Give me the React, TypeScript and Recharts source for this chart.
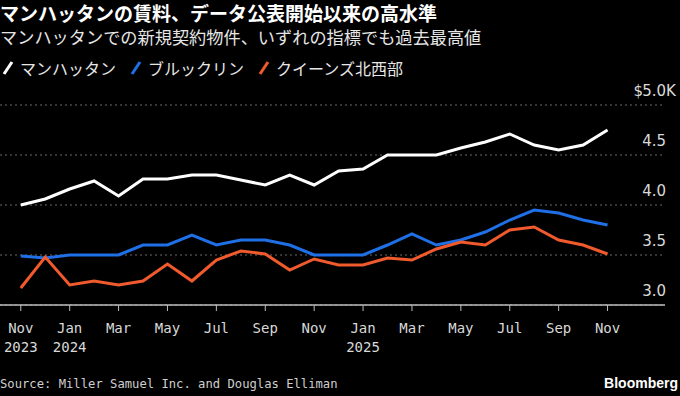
import { LineChart, Line, XAxis, YAxis, CartesianGrid } from 'recharts'

// Monthly rents, $K, Nov 2023 .. Nov 2025
const MONTHS = [
  'Nov', 'Dec', 'Jan', 'Feb', 'Mar', 'Apr', 'May', 'Jun', 'Jul', 'Aug', 'Sep', 'Oct',
  'Nov', 'Dec', 'Jan', 'Feb', 'Mar', 'Apr', 'May', 'Jun', 'Jul', 'Aug', 'Sep', 'Oct', 'Nov',
]
const YEAR_LABELS: Record<number, string> = { 0: '2023', 2: '2024', 14: '2025' }

const manhattan = [
  4.0, 4.06, 4.16, 4.24, 4.09, 4.26, 4.26, 4.3, 4.3, 4.25, 4.2, 4.3, 4.2,
  4.34, 4.36, 4.5, 4.5, 4.5, 4.57, 4.63, 4.71, 4.6, 4.55, 4.6, 4.75,
]
const brooklyn = [
  3.49, 3.47, 3.5, 3.5, 3.5, 3.6, 3.6, 3.7, 3.6, 3.65, 3.65, 3.6, 3.5,
  3.5, 3.5, 3.6, 3.71, 3.6, 3.65, 3.73, 3.85, 3.95, 3.92, 3.85, 3.8,
]
const queensNW = [
  3.17, 3.48, 3.2, 3.24, 3.2, 3.24, 3.41, 3.24, 3.45, 3.54, 3.51, 3.35, 3.46,
  3.4, 3.4, 3.47, 3.45, 3.56, 3.63, 3.6, 3.75, 3.78, 3.65, 3.6, 3.51,
]

const Y_TICKS = [3.0, 3.5, 4.0, 4.5, 5.0]
const X_TICKS = [0, 2, 4, 6, 8, 10, 12, 14, 16, 18, 20, 22, 24]

const WHITE = '#ffffff'
const BLUE = '#1f6fe6'
const ORANGE = '#f05a2c'

const data = MONTHS.map((m, i) => ({
  i,
  month: m,
  manhattan: manhattan[i],
  brooklyn: brooklyn[i],
  queens: queensNW[i],
}))

const MONO = '"DejaVu Sans Mono", monospace'
const CJK = '"Noto Sans CJK JP", sans-serif'

function XTick({ x, y, payload }: any) {
  const idx = payload.value as number
  const year = YEAR_LABELS[idx]
  return (
    <g>
      <text x={x} y={y + 20} textAnchor="middle" fill="#d9d9d9" fontSize={14} fontFamily={MONO}>
        {MONTHS[idx]}
      </text>
      {year && (
        <text x={x} y={y + 39} textAnchor="middle" fill="#d9d9d9" fontSize={14} fontFamily={MONO}>
          {year}
        </text>
      )}
    </g>
  )
}

function YTick({ y, payload }: any) {
  const v = payload.value as number
  const common = { fill: '#d9d9d9', fontSize: 15, fontFamily: '"DejaVu Sans", sans-serif' }
  if (v === 5) {
    return (
      <g>
        <text x={643} y={y - 9} textAnchor="end" {...common}>$</text>
        <text x={666} y={y - 9} textAnchor="end" {...common}>5.0</text>
        <text x={666} y={y - 9} textAnchor="start" {...common}>K</text>
      </g>
    )
  }
  return (
    <text x={666} y={y - 9} textAnchor="end" {...common}>
      {v.toFixed(1)}
    </text>
  )
}

function LegendItem({ color, label }: { color: string; label: string }) {
  return (
    <span style={{ display: 'inline-flex', alignItems: 'center', marginRight: 14 }}>
      <svg width={12} height={14} style={{ marginRight: 6 }}>
        <line x1={2} y1={13} x2={10} y2={1} stroke={color} strokeWidth={3} />
      </svg>
      {label}
    </span>
  )
}

export default function App() {
  return (
    <div style={{ position: 'relative', width: 680, height: 396, background: '#000', overflow: 'hidden' }}>
      <style>{`body{margin:0;background:#000}`}</style>
      <div style={{ position: 'absolute', left: 0, top: 2, color: '#fff', fontFamily: CJK, fontWeight: 700, fontSize: 19, lineHeight: '21px', whiteSpace: 'nowrap' }}>
        マンハッタンの賃料、データ公表開始以来の高水準
      </div>
      <div style={{ position: 'absolute', left: 0, top: 26, color: '#e6e6e6', fontFamily: CJK, fontSize: 17.2, lineHeight: '21px', whiteSpace: 'nowrap' }}>
        マンハッタンでの新規契約物件、いずれの指標でも過去最高値
      </div>
      <div style={{ position: 'absolute', left: 2, top: 56, color: '#e6e6e6', fontFamily: CJK, fontSize: 16, lineHeight: '24px', display: 'flex' }}>
        <LegendItem color={WHITE} label="マンハッタン" />
        <LegendItem color={BLUE} label="ブルックリン" />
        <LegendItem color={ORANGE} label="クイーンズ北西部" />
      </div>
      <div style={{ position: 'absolute', left: 0, top: 0 }}>
        <LineChart width={680} height={396} data={data} margin={{ top: 105, right: 15, bottom: 61, left: 0 }}>
          <CartesianGrid horizontal vertical={false} stroke="#6a6a6a" strokeDasharray="2 3" />
          <XAxis
            dataKey="i"
            type="number"
            domain={[-0.85, 26.35]}
            ticks={X_TICKS}
            interval={0}
            tick={<XTick />}
            tickSize={6}
            height={30}
            tickLine={{ stroke: '#bdbdbd' }}
            axisLine={{ stroke: '#bdbdbd', strokeWidth: 1.5 }}
            allowDataOverflow
          />
          <YAxis
            orientation="right"
            mirror
            domain={[3, 5]}
            ticks={Y_TICKS}
            interval={0}
            tick={<YTick />}
            axisLine={false}
            tickLine={false}
            allowDataOverflow
          />
          <Line dataKey="brooklyn" stroke={BLUE} strokeWidth={3} dot={false} isAnimationActive={false} />
          <Line dataKey="queens" stroke={ORANGE} strokeWidth={3} dot={false} isAnimationActive={false} />
          <Line dataKey="manhattan" stroke={WHITE} strokeWidth={3} dot={false} isAnimationActive={false} />
        </LineChart>
      </div>
      <div style={{ position: 'absolute', left: 0, top: 376, color: '#cfcfcf', fontFamily: MONO, fontSize: 12.2, lineHeight: '16px' }}>
        Source: Miller Samuel Inc. and Douglas Elliman
      </div>
      <div style={{ position: 'absolute', right: 2, top: 374, color: '#fff', fontFamily: '"Liberation Sans", sans-serif', fontWeight: 700, fontSize: 14, lineHeight: '18px' }}>
        Bloomberg
      </div>
    </div>
  )
}
